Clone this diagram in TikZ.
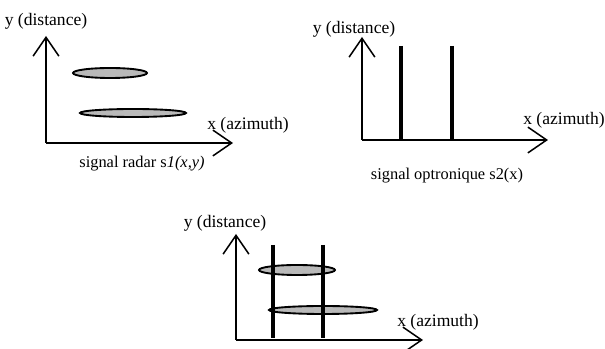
\documentclass[tikz,border=0pt]{standalone}
\usepackage{fontspec}
\setmainfont{Liberation Serif}
\usetikzlibrary{arrows.meta,positioning}

\begin{document}
\begin{tikzpicture}[x=0.03cm,y=-0.03cm,>={Straight Barb[length=16pt,width=22pt]},
  axis/.style={->,line width=1.3pt},
  bar/.style={line width=3.2pt},
  blob/.style={draw,line width=1.6pt,fill=gray!55},
  lbl/.style={font=\fontsize{15}{17}\selectfont,inner sep=0pt},
  capt/.style={font=\fontsize{14}{16}\selectfont,inner sep=0pt}]
\useasboundingbox (0,0) rectangle (605,349);
% radar
\coordinate (o1) at (46,143);
\coordinate (y1) at (46,36);
\coordinate (x1) at (233,143);
\draw[blob] (110,73) ellipse [x radius=37,y radius=5];
\draw[blob] (133,113) ellipse [x radius=53,y radius=4];
\draw[axis] (o1) -- (y1);
\draw[axis] (o1) -- (x1);
\node[lbl] (ly1) at (46,21) {y (distance)};
\node[lbl] (lx1) at (248,125) {x (azimuth)};
\node[capt] (c1) at (142,164) {signal radar s\textit{1(x,y)}};
% optronique
\coordinate (o2) at (362,140);
\coordinate (y2) at (362,37);
\coordinate (x2) at (548,140);
\draw[bar] (401,46) -- (401,140);
\draw[bar] (452,46) -- (452,140);
\draw[axis] (o2) -- (y2);
\draw[axis] (o2) -- (x2);
\node[lbl] (ly2) at (354,29) {y (distance)};
\node[lbl] (lx2) at (564,120) {x (azimuth)};
\node[capt] (c2) at (447,176) {signal optronique s2(x)};
% fusion
\coordinate (o3) at (236,340);
\coordinate (y3) at (236,234);
\coordinate (x3) at (423,340);
\draw[blob] (297,270) ellipse [x radius=38,y radius=5];
\draw[blob] (323,310) ellipse [x radius=54,y radius=4];
\draw[bar] (273,245) -- (273,338);
\draw[bar] (323,245) -- (323,338);
\draw[axis] (o3) -- (y3);
\draw[axis] (o3) -- (x3);
\node[lbl] (ly3) at (225,223) {y (distance)};
\node[lbl] (lx3) at (438,322) {x (azimuth)};
\end{tikzpicture}
\end{document}
